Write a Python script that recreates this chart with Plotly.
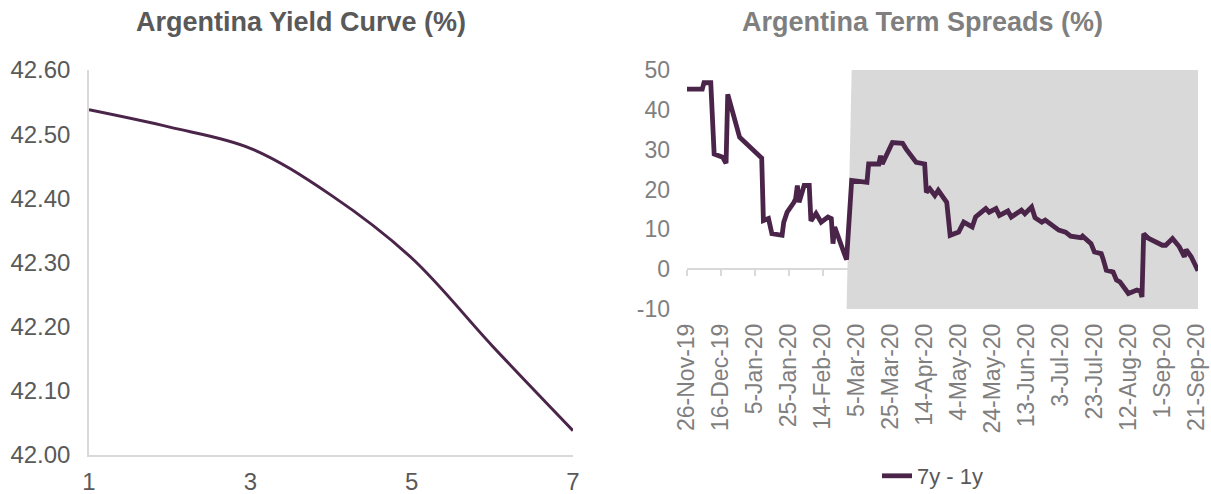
import plotly.graph_objects as go

# ---------------- data ----------------
tenors = [1, 2, 3, 4, 5, 6, 7]
yields = [42.538, 42.511, 42.478, 42.405, 42.307, 42.170, 42.038]

spread_dates = [
    "2019-11-26", "2019-12-05", "2019-12-06", "2019-12-10", "2019-12-12", "2019-12-17",
    "2019-12-19", "2019-12-20", "2019-12-27", "2020-01-08", "2020-01-09", "2020-01-10",
    "2020-01-13", "2020-01-15", "2020-01-21", "2020-01-22", "2020-01-24", "2020-01-28",
    "2020-01-29", "2020-01-30", "2020-01-31", "2020-02-03", "2020-02-06", "2020-02-07",
    "2020-02-10", "2020-02-13", "2020-02-17", "2020-02-19", "2020-02-20", "2020-02-21",
    "2020-02-26", "2020-02-27", "2020-02-28", "2020-03-02", "2020-03-11", "2020-03-12",
    "2020-03-18", "2020-03-19", "2020-03-20", "2020-03-26", "2020-04-01", "2020-04-03",
    "2020-04-09", "2020-04-14", "2020-04-15", "2020-04-17", "2020-04-20", "2020-04-22",
    "2020-04-27", "2020-04-29", "2020-05-04", "2020-05-07", "2020-05-12", "2020-05-14",
    "2020-05-20", "2020-05-22", "2020-05-26", "2020-05-28", "2020-06-02", "2020-06-04",
    "2020-06-10", "2020-06-12", "2020-06-16", "2020-06-18", "2020-06-22", "2020-06-24",
    "2020-07-02", "2020-07-06", "2020-07-09", "2020-07-15", "2020-07-16", "2020-07-21",
    "2020-07-23", "2020-07-27", "2020-07-28", "2020-07-30", "2020-08-03", "2020-08-05",
    "2020-08-07", "2020-08-12", "2020-08-17", "2020-08-19", "2020-08-20", "2020-08-21",
    "2020-08-24", "2020-09-01", "2020-09-03", "2020-09-07", "2020-09-11", "2020-09-14",
    "2020-09-15", "2020-09-18", "2020-09-22",
]
spread_values = [
    45.2, 45.2, 46.8, 46.8, 28.9, 28.1,
    26.6, 43.9, 33.1, 28.5, 27.9, 12.2,
    12.7, 8.9, 8.5, 11.8, 14.3, 16.8,
    17.7, 21.0, 16.8, 21.0, 21.0, 12.1,
    14.0, 11.8, 13.1, 12.7, 6.4, 10.6,
    3.9, 3.5, 2.4, 22.3, 21.8, 26.4,
    26.4, 28.5, 26.4, 31.8, 31.6, 30.2,
    26.8, 26.4, 19.3, 20.2, 18.5, 19.8,
    16.8, 8.5, 9.3, 11.8, 10.6, 13.1,
    15.2, 14.3, 15.2, 13.5, 14.6, 13.1,
    14.8, 13.9, 15.6, 12.9, 11.8, 12.3,
    9.8, 9.3, 8.3, 7.9, 8.3, 6.4,
    4.3, 3.9, 2.7, -0.25, -0.7, -2.75,
    -3.2, -6.1, -5.25, -5.5, -7.0, 8.9,
    7.7, 6.0, 6.0, 7.7, 5.6, 3.1,
    4.9, 3.1, -0.4,
]

tick_dates = [
    "2019-11-26", "2019-12-16", "2020-01-05", "2020-01-25", "2020-02-14", "2020-03-05",
    "2020-03-25", "2020-04-14", "2020-05-04", "2020-05-24", "2020-06-13", "2020-07-03",
    "2020-07-23", "2020-08-12", "2020-09-01", "2020-09-21",
]
tick_labels = [
    "26-Nov-19", "16-Dec-19", "5-Jan-20", "25-Jan-20", "14-Feb-20", "5-Mar-20",
    "25-Mar-20", "14-Apr-20", "4-May-20", "24-May-20", "13-Jun-20", "3-Jul-20",
    "23-Jul-20", "12-Aug-20", "1-Sep-20", "21-Sep-20",
]

spread_ticks = [-10, 0, 10, 20, 30, 40, 50]
spread_tick_labels = ["-10", "0", "10", "20", "30", "40", "50"]

yield_ticks = [42.0, 42.1, 42.2, 42.3, 42.4, 42.5, 42.6]

# shaded regime (from end of Feb 2020 to end of sample)
shade_dates = ["2020-02-28", "2020-03-02", "2020-09-22", "2020-09-22"]
shade_values = [-10, 50, 50, -10]

x_range_right = ["2019-11-26", "2020-09-22"]

# ---------------- style ----------------
LINE = "#4A2449"
DARK = "#595959"
LIGHT = "#7F7F7F"
AXIS = "#D9D9D9"
FONT = "Liberation Sans, Arial, sans-serif"

W, H = 1211, 494


def px_x(p):
    return p / W


def px_y(p):
    return 1 - p / H


fig = go.Figure()

# left chart
fig.add_trace(go.Scatter(
    x=tenors, y=yields, mode="lines",
    line=dict(color=LINE, width=3, shape="spline", smoothing=1.0),
    xaxis="x", yaxis="y", showlegend=False, hoverinfo="skip",
))

# shaded area (right chart, main subplot -> drawn under the line)
fig.add_trace(go.Scatter(
    x=shade_dates, y=shade_values, mode="lines", fill="toself",
    fillcolor=AXIS, line=dict(width=0, color=AXIS),
    xaxis="x2", yaxis="y2", showlegend=False, hoverinfo="skip",
))

# spread line (overlay subplot -> drawn on top)
fig.add_trace(go.Scatter(
    x=spread_dates, y=spread_values, mode="lines", name="7y - 1y",
    line=dict(color=LINE, width=4.8),
    xaxis="x3", yaxis="y2", showlegend=True,
))

y_top = px_y(70)

fig.update_layout(
    width=W, height=H,
    margin=dict(l=0, r=0, t=0, b=0, autoexpand=False),
    paper_bgcolor="white", plot_bgcolor="rgba(0,0,0,0)",
    font=dict(family=FONT, color=DARK, size=24),
    xaxis=dict(
        domain=[px_x(89), px_x(573)], anchor="y", range=[1, 7],
        tickvals=[1, 3, 5, 7], showgrid=False, zeroline=False,
        showline=True, linecolor=AXIS, linewidth=1.5, ticks="",
        tickfont=dict(size=24, color=DARK, family=FONT), automargin=False,
        ticklabelstandoff=4,
    ),
    yaxis=dict(
        domain=[px_y(455), y_top], anchor="x", range=[42.0, 42.6],
        tickvals=yield_ticks, tickformat=".2f",
        showgrid=False, zeroline=False, showline=True, linecolor=AXIS, linewidth=1.5,
        ticks="", tickfont=dict(size=24, color=DARK, family=FONT), automargin=False,
        ticklabelstandoff=12,
    ),
    # main right x-axis: the zero line with its small tick marks (below traces)
    xaxis2=dict(
        domain=[px_x(687), px_x(1198)], anchor="free", position=px_y(269), type="date",
        range=x_range_right, tickvals=tick_dates, showticklabels=False,
        showgrid=False, zeroline=False, showline=True, linecolor=AXIS, linewidth=2,
        ticks="outside", ticklen=6, tickwidth=2, tickcolor=AXIS, layer="below traces",
        automargin=False,
    ),
    # overlay right x-axis: the date labels at the bottom
    xaxis3=dict(
        overlaying="x2", anchor="y2", side="bottom", type="date",
        range=x_range_right, tickvals=tick_dates, ticktext=tick_labels,
        tickangle=-90, showgrid=False, zeroline=False, showline=False, ticks="",
        tickfont=dict(size=23, color=LIGHT, family=FONT), automargin=False,
        ticklabelstandoff=9,
    ),
    yaxis2=dict(
        domain=[px_y(309), y_top], anchor="x2", range=[-10, 50],
        tickvals=spread_ticks, ticktext=spread_tick_labels, showgrid=False,
        zeroline=False, showline=False, ticks="",
        tickfont=dict(size=23, color=LIGHT, family=FONT), automargin=False,
        ticklabelstandoff=16,
    ),
    legend=dict(
        orientation="h", x=px_x(933), xanchor="center", y=px_y(476), yanchor="middle",
        font=dict(size=22, color=DARK, family=FONT), bgcolor="rgba(0,0,0,0)",
    ),
    annotations=[
        dict(text="<b>Argentina Yield Curve (%)</b>", x=px_x(301), y=px_y(22),
             xref="paper", yref="paper", xanchor="center", yanchor="middle",
             showarrow=False, font=dict(size=27, color=DARK, family=FONT)),
        dict(text="<b>Argentina Term Spreads (%)</b>", x=px_x(922), y=px_y(22),
             xref="paper", yref="paper", xanchor="center", yanchor="middle",
             showarrow=False, font=dict(size=27, color=LIGHT, family=FONT)),
    ],
)

fig.write_html("out.html", config={"displayModeBar": False},
               post_script="document.body.style.margin='0px';")
